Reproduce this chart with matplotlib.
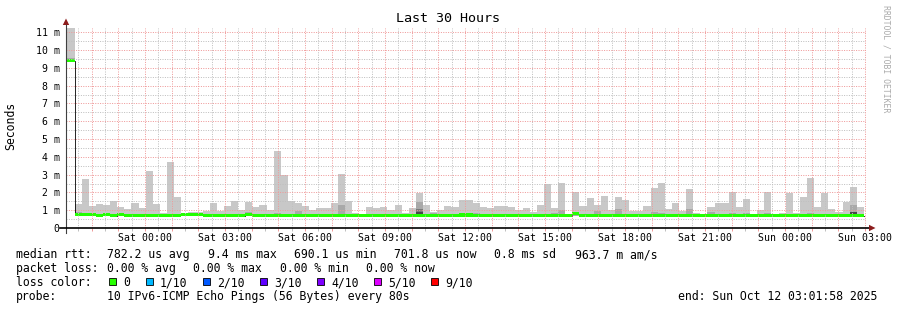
import matplotlib
matplotlib.use('Agg')
import matplotlib.pyplot as plt
from matplotlib.patches import Rectangle, Polygon
import numpy as np

plt.rcParams['font.family'] = ['DejaVu Sans Mono']

W, H, DPI = 897, 310, 100

# ---------------- data ----------------
# time axis in hours since Fri 21:00; window = last 30 hours ending Sun 03:01:58
t_start = 0.0328
t_span = 30.0
bin_hours = 960 / 3600.0          # 12 x 80 s consolidated bins
first_edge = 0.352                # left edge of bin #1

x_tick_hours = [3, 6, 9, 12, 15, 18, 21, 24, 27, 30]
x_tick_labels = ['Sat 00:00', 'Sat 03:00', 'Sat 06:00', 'Sat 09:00', 'Sat 12:00',
                 'Sat 15:00', 'Sat 18:00', 'Sat 21:00', 'Sun 00:00', 'Sun 03:00']
y_tick_values = [0, 1, 2, 3, 4, 5, 6, 7, 8, 9, 10, 11]
y_tick_labels = ['0', '1 m', '2 m', '3 m', '4 m', '5 m', '6 m', '7 m', '8 m', '9 m', '10 m', '11 m']

# smoke (ms): max ping per bin
smoke_max = [
    11.25, 1.35, 2.75, 1.25, 1.35, 1.30, 1.52, 1.16, 1.06, 1.42,
    1.12, 3.20, 1.36, 0.84, 3.70, 1.74, 0.78, 0.88, 0.90, 0.95,
    1.42, 0.97, 1.25, 1.52, 1.00, 1.46, 1.17, 1.29, 1.00, 4.33,
    2.98, 1.52, 1.40, 1.22, 1.00, 1.12, 1.12, 1.42, 3.04, 1.52,
    0.86, 0.80, 1.18, 1.13, 1.18, 1.00, 1.28, 0.83, 1.12, 1.97,
    1.30, 0.90, 1.00, 1.22, 1.18, 1.57, 1.57, 1.42, 1.18, 1.15,
    1.24, 1.24, 1.19, 1.00, 1.12, 0.88, 1.29, 2.48, 1.12, 2.54,
    0.80, 2.02, 1.24, 1.68, 1.29, 1.80, 1.00, 1.74, 1.57, 0.98,
    0.97, 1.24, 2.24, 2.53, 1.08, 1.41, 0.95, 2.20, 0.82, 0.74,
    1.18, 1.40, 1.40, 2.02, 1.18, 1.63, 0.76, 1.00, 2.02, 0.76,
    0.83, 1.98, 0.82, 1.76, 2.81, 1.17, 1.98, 1.06, 0.92, 1.48,
    2.30, 1.18]

# smoke (ms): min ping per bin
smoke_min = [
    9.35, 0.68, 0.68, 0.68, 0.68, 0.68, 0.68, 0.68, 0.68, 0.68,
    0.68, 0.68, 0.68, 0.68, 0.68, 0.68, 0.68, 0.68, 0.68, 0.68,
    0.68, 0.68, 0.68, 0.68, 0.68, 0.68, 0.68, 0.68, 0.68, 0.68,
    0.68, 0.68, 0.68, 0.68, 0.68, 0.68, 0.68, 0.68, 0.68, 0.68,
    0.68, 0.68, 0.68, 0.68, 0.68, 0.68, 0.68, 0.68, 0.68, 0.68,
    0.68, 0.68, 0.68, 0.68, 0.68, 0.68, 0.68, 0.68, 0.68, 0.68,
    0.68, 0.68, 0.68, 0.68, 0.68, 0.68, 0.68, 0.68, 0.68, 0.68,
    0.68, 0.68, 0.68, 0.68, 0.68, 0.68, 0.68, 0.68, 0.68, 0.68,
    0.68, 0.68, 0.68, 0.68, 0.68, 0.68, 0.68, 0.68, 0.68, 0.68,
    0.68, 0.68, 0.68, 0.68, 0.68, 0.68, 0.68, 0.68, 0.68, 0.68,
    0.68, 0.68, 0.68, 0.68, 0.68, 0.68, 0.68, 0.68, 0.68, 0.68,
    0.68, 0.68]

# inner smoke layers (upper edge in ms, 0 = not visible)
smoke_dark = [
    9.56, 0.88, 0.85, 0, 0.80, 0, 0, 0.80, 0, 0,
    0, 0, 0.80, 0, 0, 0.80, 0, 0, 0.80, 0,
    0, 0, 0.80, 0, 0, 0.92, 0, 0, 0, 0.82,
    0, 0, 0.98, 0, 0, 0, 0, 0, 1.30, 0,
    0.80, 0, 0, 0.80, 0, 0, 0, 0, 0, 1.46,
    0, 0.82, 0, 0, 0, 0.82, 0, 0.86, 0, 0,
    0, 0, 0.78, 0, 0, 0, 0.80, 0, 0.85, 1.00,
    0, 0.86, 0, 0, 0.98, 0, 0, 1.06, 0, 0,
    0, 0, 0.90, 0.82, 0.80, 0, 0, 1.05, 0, 0,
    0.90, 0, 0, 0.82, 0, 0.84, 0, 0, 0.82, 0,
    0, 0, 0, 0, 0.82, 0, 0.80, 0, 0, 0,
    1.27, 0]
smoke_darker = [0] * 49 + [1.05] + [0] * 62
smoke_core = [0] * 49 + [0.90] + [0] * 60 + [0.92, 0]

# median rtt (ms)
median = [
    9.40, 0.77, 0.77, 0.74, 0.72, 0.74, 0.70, 0.75, 0.71, 0.70,
    0.70, 0.70, 0.71, 0.70, 0.70, 0.71, 0.74, 0.74, 0.77, 0.70,
    0.70, 0.70, 0.71, 0.70, 0.70, 0.77, 0.70, 0.71, 0.70, 0.71,
    0.70, 0.70, 0.71, 0.70, 0.70, 0.70, 0.70, 0.70, 0.71, 0.70,
    0.70, 0.69, 0.70, 0.70, 0.70, 0.70, 0.70, 0.70, 0.70, 0.71,
    0.70, 0.70, 0.70, 0.70, 0.70, 0.73, 0.73, 0.71, 0.70, 0.70,
    0.70, 0.70, 0.70, 0.70, 0.70, 0.70, 0.70, 0.70, 0.71, 0.72,
    0.70, 0.80, 0.70, 0.70, 0.72, 0.70, 0.70, 0.72, 0.70, 0.70,
    0.70, 0.70, 0.71, 0.70, 0.70, 0.70, 0.70, 0.71, 0.70, 0.70,
    0.71, 0.70, 0.70, 0.70, 0.70, 0.70, 0.70, 0.70, 0.70, 0.70,
    0.70, 0.70, 0.70, 0.70, 0.70, 0.70, 0.70, 0.70, 0.70, 0.70,
    0.71, 0.70]

legend_rows = [
    [(16, 'median rtt:'), (107.3, '782.2 us avg'), (207.5, '9.4 ms max'),
     (293.8, '690.1 us min'), (394.0, '701.8 us now'), (494.0, '0.8 ms sd'),
     (575.0, '963.7 m am/s')],
    [(16, 'packet loss:'), (107.3, '0.00 % avg'), (193.3, '0.00 % max'),
     (279.5, '0.00 % min'), (366.0, '0.00 % now')],
    [(16, 'loss color:')],
    [(16, 'probe:'), (107.3, '10 IPv6-ICMP Echo Pings (56 Bytes) every 80s'),
     (678, 'end: Sun Oct 12 03:01:58 2025')],
]
loss_labels = ['0', '1/10', '2/10', '3/10', '4/10', '5/10', '9/10']
loss_colors = ['#26ff00', '#00b8ff', '#0059ff', '#5e00ff', '#7e00ff', '#dd00ff', '#ff0000']

# ---------------- figure ----------------
fig = plt.figure(figsize=(W / DPI, H / DPI), dpi=DPI)
fig.patch.set_facecolor('white')

plot_left, plot_right, plot_top, plot_bottom = 66, 866, 27.8, 228
ax = fig.add_axes([plot_left / W, (H - plot_bottom) / H,
                   (plot_right - plot_left) / W, (plot_bottom - plot_top) / H])
ax.set_facecolor('white')
ax.set_xlim(t_start, t_start + t_span)
ax.set_ylim(0, 11.25)
for s in ax.spines.values():
    s.set_visible(False)

n = len(smoke_max)
idx = np.arange(n)
lefts = first_edge + (idx - 1) * bin_hours
lo = np.array(smoke_min)
hi = np.array(smoke_max)

ax.bar(lefts, hi - lo, bottom=lo, width=bin_hours, align='edge',
       color='#c8c8c8', linewidth=0, antialiased=False, zorder=1)
for arr, col, z in ((smoke_dark, '#a9a9a9', 1.1), (smoke_darker, '#7a7a7a', 1.2),
                    (smoke_core, '#484848', 1.3)):
    a = np.array(arr, dtype=float)
    m = a > 0
    ax.bar(lefts[m], a[m] - lo[m], bottom=lo[m], width=bin_hours, align='edge',
           color=col, linewidth=0, antialiased=False, zorder=z)

med = np.array(median)
xs = np.append(lefts, lefts[-1] + bin_hours)
med_ext = np.append(med, med[-1])
ax.step(xs, med_ext, where='post', color='black', lw=0.6, zorder=3)
sw = 0.17
ax.fill_between(xs, med_ext - sw / 2, med_ext + sw / 2,
                step='post', color='#22ff00', linewidth=0, antialiased=False, zorder=4)

# grid (drawn on top, rrdtool style)
major_col, minor_col = '#ef9a9a', '#c0c0c0'
dash = (0, (1, 1.4))
for h in np.arange(0.5, 30.5, 1.0):
    ax.axvline(h, color=minor_col, lw=0.72, ls=dash, zorder=6)
for h in range(1, 31):
    ax.axvline(h, color=major_col, lw=0.72, ls=dash, zorder=6.5)
for v in np.arange(0.5, 11.0, 1.0):
    ax.axhline(v, color=minor_col, lw=0.72, ls=dash, zorder=6)
for v in range(1, 12):
    ax.axhline(v, color=major_col, lw=0.72, ls=dash, zorder=6.5)

# ticks
ax.set_xticks(list(range(1, 31)))
ax.set_xticklabels([x_tick_labels[x_tick_hours.index(h)] if h in x_tick_hours else ''
                    for h in range(1, 31)])
ax.set_xticks(list(np.arange(0.5, 30.5, 1.0)), minor=True)
ax.tick_params(axis='x', which='major', length=2.2, width=0.72, color=major_col,
               direction='out', pad=1.6, labelsize=7.1)
ax.tick_params(axis='x', which='minor', length=2.2, width=0.72, color=minor_col,
               direction='out')
ax.set_yticks(y_tick_values)
ax.set_yticklabels(y_tick_labels)
ax.tick_params(axis='y', which='major', length=0, pad=4.5, labelsize=7.1)

# axes lines + arrows
ph = plot_bottom - plot_top
pw = plot_right - plot_left
ax.plot([0, 0], [-5 / ph, 1 + 4 / ph], transform=ax.transAxes, color='#404040',
        lw=0.8, clip_on=False, zorder=8)
ax.plot([-6 / pw, 1 + 3 / pw], [0, 0], transform=ax.transAxes, color='black',
        lw=1.2, clip_on=False, zorder=8)


def fp(x, y):
    return (x / W, 1 - y / H)


fig.add_artist(Polygon([fp(66, 18.5), fp(62.8, 25), fp(69.2, 25)], closed=True,
                       facecolor='#8c1c1c', edgecolor='none', transform=fig.transFigure))
fig.add_artist(Polygon([fp(875.5, 228), fp(869, 224.8), fp(869, 231.2)], closed=True,
                       facecolor='#8c1c1c', edgecolor='none', transform=fig.transFigure))

# texts
fig.text(*fp(448, 19), 'Last 30 Hours', ha='center', va='center', fontsize=9.6)
fig.text(*fp(11, 126), 'Seconds', rotation=90, ha='center', va='center', fontsize=8.3)
fig.text(*fp(886, 59), 'RRDTOOL / TOBI OETIKER', rotation=270, ha='center',
         va='center', fontsize=5.9, color='#aaaaaa')

baselines = [258.4, 272.4, 286.3, 300.2]
for row, yb in zip(legend_rows, baselines):
    for x, s in row:
        fig.text(*fp(x, yb), s, ha='left', va='baseline', fontsize=8.3)

sq_x = [108.7, 145.7, 202.7, 260.0, 317.0, 374.0, 431.0]
for x, lab, col in zip(sq_x, loss_labels, loss_colors):
    fig.add_artist(Rectangle(fp(x, 285.3), 7 / W, 7 / H, facecolor=col,
                             edgecolor='black', lw=0.6, transform=fig.transFigure))
    fig.text(*fp(x + 14.3, baselines[2]), lab, ha='left', va='baseline', fontsize=8.3)

fig.savefig('out.png', dpi=DPI, facecolor='white')
